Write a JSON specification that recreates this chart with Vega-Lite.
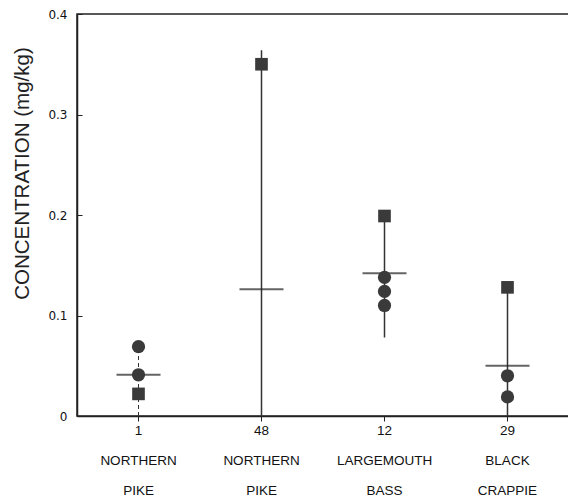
{
  "$schema": "https://vega.github.io/schema/vega-lite/v6.json",
  "width": 492,
  "height": 402,
  "autosize": {"type": "none"},
  "padding": {"left": 77, "top": 14, "right": 0, "bottom": 81},
  "background": "white",
  "config": {
    "view": {"stroke": "#222", "strokeWidth": 1.5},
    "font": "Liberation Sans",
    "axis": {"domainColor": "#222", "domainWidth": 1.5, "tickColor": "#222", "labelColor": "#111", "titleColor": "#222", "grid": false}
  },
  "datasets": {
    "summary": [
      {"cat": "1|NORTHERN|PIKE", "lo": 0.0, "hi": 0.069, "mean": 0.041},
      {"cat": "48|NORTHERN|PIKE", "lo": 0.0, "hi": 0.364, "mean": 0.126},
      {"cat": "12|LARGEMOUTH|BASS", "lo": 0.078, "hi": 0.199, "mean": 0.142},
      {"cat": "29|BLACK|CRAPPIE", "lo": 0.0, "hi": 0.128, "mean": 0.050}
    ],
    "points": [
      {"cat": "1|NORTHERN|PIKE", "value": 0.069, "kind": "circle"},
      {"cat": "1|NORTHERN|PIKE", "value": 0.041, "kind": "circle"},
      {"cat": "1|NORTHERN|PIKE", "value": 0.022, "kind": "square"},
      {"cat": "48|NORTHERN|PIKE", "value": 0.350, "kind": "square"},
      {"cat": "12|LARGEMOUTH|BASS", "value": 0.199, "kind": "square"},
      {"cat": "12|LARGEMOUTH|BASS", "value": 0.138, "kind": "circle"},
      {"cat": "12|LARGEMOUTH|BASS", "value": 0.124, "kind": "circle"},
      {"cat": "12|LARGEMOUTH|BASS", "value": 0.110, "kind": "circle"},
      {"cat": "29|BLACK|CRAPPIE", "value": 0.128, "kind": "square"},
      {"cat": "29|BLACK|CRAPPIE", "value": 0.040, "kind": "circle"},
      {"cat": "29|BLACK|CRAPPIE", "value": 0.019, "kind": "circle"}
    ]
  },
  "encoding": {
    "x": {
      "field": "cat",
      "type": "nominal",
      "sort": ["1|NORTHERN|PIKE", "48|NORTHERN|PIKE", "12|LARGEMOUTH|BASS", "29|BLACK|CRAPPIE"],
      "scale": {"paddingInner": 0, "paddingOuter": 0},
      "axis": {
        "title": null,
        "labelAngle": 0,
        "labelExpr": "split(datum.label, '|')",
        "labelFontSize": 13.5,
        "labelLineHeight": 30,
        "labelPadding": 2,
        "tickSize": 5,
        "labelBaseline": "top"
      }
    }
  },
  "layer": [
    {
      "data": {"name": "summary"},
      "mark": {"type": "rule", "color": "#333"},
      "encoding": {
        "y": {
          "field": "lo",
          "type": "quantitative",
          "scale": {"domain": [0, 0.4], "nice": false},
          "axis": {
            "title": "CONCENTRATION (mg/kg)",
            "titleFontSize": 20.5,
            "titleFontWeight": "normal",
            "titleX": -55,
            "titleY": 159,
            "titleAngle": -90,
            "titleBaseline": "middle",
            "titleAlign": "center",
            "values": [0, 0.1, 0.2, 0.3, 0.4],
            "labelExpr": "datum.value == 0 ? '0' : format(datum.value, '.1f')",
            "labelFont": "DejaVu Sans",
            "labelFontSize": 12,
            "tickSize": -5,
            "labelPadding": 15
          }
        },
        "y2": {"field": "hi"},
        "strokeWidth": {"condition": {"test": "datum.cat == '1|NORTHERN|PIKE'", "value": 1}, "value": 1.5},
        "strokeDash": {"condition": {"test": "datum.cat == '1|NORTHERN|PIKE'", "value": [4, 3]}, "value": [1, 0]}
      }
    },
    {
      "data": {"name": "summary"},
      "mark": {"type": "tick", "color": "#222", "size": 44, "thickness": 2},
      "encoding": {
        "y": {"field": "mean", "type": "quantitative"}
      }
    },
    {
      "data": {"name": "points"},
      "mark": {"type": "point", "filled": true, "opacity": 1, "color": "#3a3a3a"},
      "encoding": {
        "y": {"field": "value", "type": "quantitative"},
        "shape": {"field": "kind", "type": "nominal", "scale": {"domain": ["circle", "square"], "range": ["circle", "square"]}, "legend": null},
        "size": {"field": "kind", "type": "nominal", "scale": {"domain": ["circle", "square"], "range": [175, 160]}, "legend": null}
      }
    }
  ]
}
